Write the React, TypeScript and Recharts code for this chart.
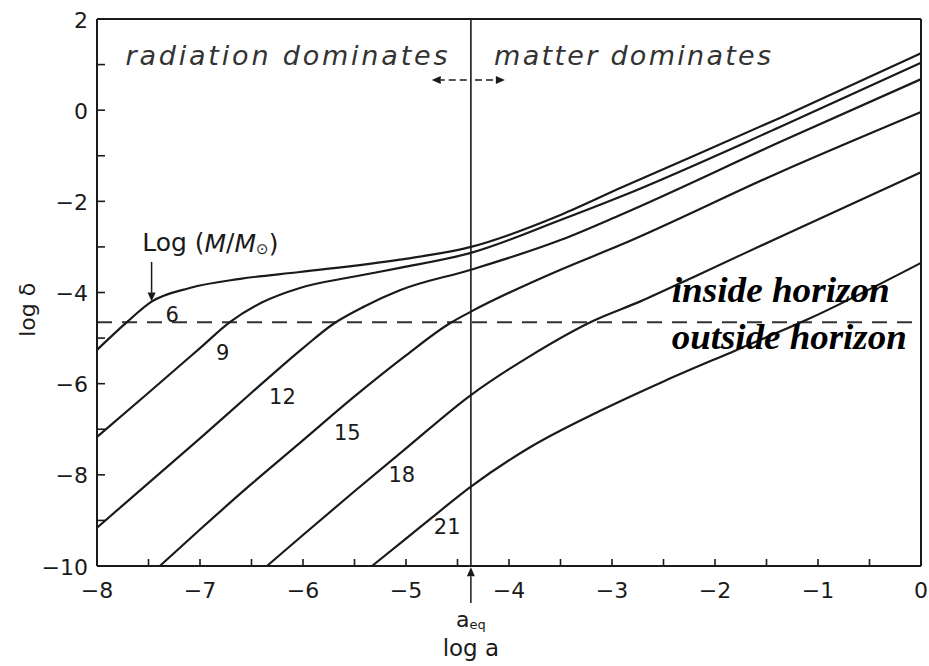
import React from 'react';
import { LineChart, Line, XAxis, YAxis, ReferenceLine, ReferenceDot } from 'recharts';

// ─── data (log a, log δ) ────────────────────────────────────────────────────
const xTicks = [-8, -7.5, -7, -6.5, -6, -5.5, -5, -4.5, -4, -3.5, -3, -2.5, -2, -1.5, -1, -0.5, 0];
const yTicks = [2, 1, 0, -1, -2, -3, -4, -5, -6, -7, -8, -9, -10];

const curve6  = [[-8, -5.26], [-7.71, -4.65], [-7.47, -4.2], [-7.1, -3.9], [-6.61, -3.7], [-6.03, -3.55], [-5.06, -3.28], [-4.37, -3.0], [-3.5, -2.3], [-2.92, -1.71], [-1.37, -0.17], [0, 1.25]];
const curve9  = [[-8, -7.17], [-7.5, -6.2], [-7, -5.22], [-6.71, -4.65], [-6.4, -4.22], [-6.03, -3.9], [-5.5, -3.65], [-5.06, -3.46], [-4.37, -3.13], [-3.5, -2.41], [-2.92, -1.9], [-1.37, -0.37], [0, 1.04]];
const curve12 = [[-8, -9.16], [-7, -7.2], [-6.5, -6.2], [-6, -5.22], [-5.7, -4.68], [-5.4, -4.3], [-5.06, -3.95], [-4.37, -3.5], [-3.5, -2.85], [-2.92, -2.3], [-1.37, -0.7], [0, 0.68]];
const curve15 = [[-7.39, -10], [-7, -9.2], [-6.5, -8.2], [-6.03, -7.3], [-5.5, -6.28], [-5, -5.38], [-4.57, -4.67], [-4.37, -4.42], [-3.5, -3.5], [-2.92, -2.96], [-1.37, -1.36], [0, -0.04]];
const curve18 = [[-6.35, -10], [-6, -9.32], [-5.5, -8.36], [-5, -7.42], [-4.37, -6.25], [-3.8, -5.4], [-3.18, -4.62], [-2.73, -4.2], [-2.17, -3.62], [-1.37, -2.78], [0, -1.36]];
const curve21 = [[-5.33, -10], [-5, -9.4], [-4.7, -8.85], [-4.37, -8.26], [-3.8, -7.4], [-3.12, -6.6], [-2.5, -5.95], [-1.8, -5.27], [-1.11, -4.6], [0, -3.35]];

const massLabels = ['6', '9', '12', '15', '18', '21'];
const massLabelX = [-7.27, -6.78, -6.2, -5.57, -5.04, -4.6];
const massLabelY = [-4.49, -5.32, -6.29, -7.08, -8.0, -9.14];

const aEq = -4.37;
const horizon = -4.65;

const INK  = '#1a1a1a';
const FONT = "'DejaVu Sans', sans-serif";

const toPts = (arr: number[][]) => arr.map(([x, y]) => ({ x, y }));
const curves = [curve6, curve9, curve12, curve15, curve18, curve21].map(toPts);

const fmt = (v: number) => (v < 0 ? `\u2212${Math.abs(v)}` : `${v}`);

const XTick = (props: any) => {
  const { x, y, payload } = props;
  const v = payload.value as number;
  return (
    <g>
      <line x1={x} x2={x} y1={y} y2={y - 7} stroke={INK} strokeWidth={1.6} />
      {Number.isInteger(v) && (
        <text x={x} y={y + 24} textAnchor="middle" dominantBaseline="central"
          fontFamily={FONT} fontSize={22} fill={INK}>{fmt(v)}</text>
      )}
    </g>
  );
};

const YTick = (props: any) => {
  const { x, y, payload } = props;
  const v = payload.value as number;
  return (
    <g>
      <line x1={x} x2={x + 8} y1={y} y2={y} stroke={INK} strokeWidth={1.6} />
      {v % 2 === 0 && (
        <text x={x - 9} y={y + 1} textAnchor="end" dominantBaseline="central"
          fontFamily={FONT} fontSize={22} fill={INK}>{fmt(v)}</text>
      )}
    </g>
  );
};

// arrow drawn along a ReferenceLine segment, head at the second point
const arrow = (dashed: boolean) => (p: any) => {
  const { x1, y1, x2, y2 } = p;
  const a = Math.atan2(y2 - y1, x2 - x1);
  const L = 9, W = 4;
  const bx = x2 - L * Math.cos(a), by = y2 - L * Math.sin(a);
  const pts = `${x2},${y2} ${bx - W * Math.sin(a)},${by + W * Math.cos(a)} ${bx + W * Math.sin(a)},${by - W * Math.cos(a)}`;
  return (
    <g>
      <line x1={x1} y1={y1} x2={bx} y2={by} stroke={INK} strokeWidth={1.5} strokeDasharray={dashed ? '7 4' : undefined} />
      <polygon points={pts} fill={INK} />
    </g>
  );
};

// text placed at a data coordinate
const note = (render: (x: number, y: number) => React.ReactNode) => (p: any) => {
  const vb = p.viewBox || {};
  return <g>{render(vb.x ?? 0, vb.y ?? 0)}</g>;
};

export default function App() {
  return (
    <div style={{ position: 'absolute', left: 0, top: 0, width: 929, height: 666, background: 'white' }}>
      <LineChart width={929} height={666} margin={{ top: 19, right: 8, left: 37, bottom: 70 }}>
        <XAxis dataKey="x" type="number" domain={[-8, 0]} ticks={xTicks} interval={0}
          tick={XTick} tickSize={0} tickMargin={0} height={30}
          axisLine={{ stroke: INK, strokeWidth: 2 }} />
        <YAxis dataKey="y" type="number" domain={[-10, 2]} ticks={yTicks} interval={0}
          tick={YTick} tickSize={0} tickMargin={0} width={60}
          axisLine={{ stroke: INK, strokeWidth: 2 }} />

        {/* frame */}
        <ReferenceLine y={2} stroke={INK} strokeWidth={2} />
        <ReferenceLine x={0} stroke={INK} strokeWidth={2} />

        {/* a_eq and horizon crossing */}
        <ReferenceLine x={aEq} stroke={INK} strokeWidth={1.6} />
        <ReferenceLine y={horizon} stroke="#333" strokeWidth={2} strokeDasharray="15 10" />

        {curves.map((d, i) => (
          <Line key={massLabels[i]} data={d} dataKey="y" type="monotone" stroke={INK}
            strokeWidth={2.2} dot={false} isAnimationActive={false} />
        ))}

        {/* arrows */}
        <ReferenceLine segment={[{ x: -4.41, y: 0.66 }, { x: -4.75, y: 0.66 }]} shape={arrow(true)} ifOverflow="visible" />
        <ReferenceLine segment={[{ x: -4.33, y: 0.66 }, { x: -4.04, y: 0.66 }]} shape={arrow(true)} ifOverflow="visible" />
        <ReferenceLine segment={[{ x: -7.47, y: -3.33 }, { x: -7.47, y: -4.2 }]} shape={arrow(false)} ifOverflow="visible" />
        <ReferenceLine segment={[{ x: aEq, y: -10.81 }, { x: aEq, y: -10.03 }]} shape={arrow(false)} ifOverflow="visible" />

        {/* curve labels */}
        {massLabels.map((m, i) => (
          <ReferenceDot key={'l' + m} x={massLabelX[i]} y={massLabelY[i]} r={0} fill="none" stroke="none"
            ifOverflow="visible"
            label={note((x, y) => (
              <text x={x} y={y} textAnchor="middle" dominantBaseline="central" fontFamily={FONT} fontSize={21} fill={INK}>{m}</text>
            ))} />
        ))}

        <ReferenceDot x={-6.16} y={1.21} r={0} fill="none" stroke="none" ifOverflow="visible"
          label={note((x, y) => (
            <text x={x} y={y} textAnchor="middle" dominantBaseline="central" fontFamily={FONT} fontStyle="italic"
              fontSize={27} fill="#333" textLength={322} lengthAdjust="spacing">radiation dominates</text>
          ))} />
        <ReferenceDot x={-2.8} y={1.21} r={0} fill="none" stroke="none" ifOverflow="visible"
          label={note((x, y) => (
            <text x={x} y={y} textAnchor="middle" dominantBaseline="central" fontFamily={FONT} fontStyle="italic"
              fontSize={27} fill="#333" textLength={277} lengthAdjust="spacing">matter dominates</text>
          ))} />

        <ReferenceDot x={-6.9} y={-2.91} r={0} fill="none" stroke="none" ifOverflow="visible"
          label={note((x, y) => (
            <text x={x} y={y} textAnchor="middle" dominantBaseline="central" fontFamily={FONT} fontSize={25} fill={INK}>
              Log (<tspan fontStyle="italic">M</tspan>/<tspan fontStyle="italic">M</tspan>
              <tspan fontSize={15} dy={6}>⊙</tspan><tspan dy={-6}>)</tspan>
            </text>
          ))} />

        <ReferenceDot x={-2.42} y={-4.21} r={0} fill="none" stroke="none" ifOverflow="visible"
          label={note((x, y) => (
            <text x={x} y={y} textAnchor="start" fontFamily="'Liberation Serif', serif" fontStyle="italic" fontWeight="bold"
              fontSize={35} fill="#000" textLength={218} lengthAdjust="spacingAndGlyphs">inside horizon</text>
          ))} />
        <ReferenceDot x={-2.42} y={-5.24} r={0} fill="none" stroke="none" ifOverflow="visible"
          label={note((x, y) => (
            <text x={x} y={y} textAnchor="start" fontFamily="'Liberation Serif', serif" fontStyle="italic" fontWeight="bold"
              fontSize={35} fill="#000" textLength={235} lengthAdjust="spacingAndGlyphs">outside horizon</text>
          ))} />

        {/* axis titles */}
        <ReferenceDot x={-8.67} y={-4.38} r={0} fill="none" stroke="none" ifOverflow="visible"
          label={note((x, y) => (
            <text x={x} y={y} textAnchor="middle" dominantBaseline="central" fontFamily={FONT} fontSize={22} fill={INK}
              transform={`rotate(-90 ${x} ${y})`}>log δ</text>
          ))} />
        <ReferenceDot x={aEq} y={-11.18} r={0} fill="none" stroke="none" ifOverflow="visible"
          label={note((x, y) => (
            <text x={x} y={y} textAnchor="middle" dominantBaseline="central" fontFamily={FONT} fontSize={22} fill={INK}>
              a<tspan fontSize={13} dy={4}>eq</tspan>
            </text>
          ))} />
        <ReferenceDot x={aEq} y={-11.8} r={0} fill="none" stroke="none" ifOverflow="visible"
          label={note((x, y) => (
            <text x={x} y={y} textAnchor="middle" dominantBaseline="central" fontFamily={FONT} fontSize={23} fill={INK}>log a</text>
          ))} />
      </LineChart>
    </div>
  );
}
